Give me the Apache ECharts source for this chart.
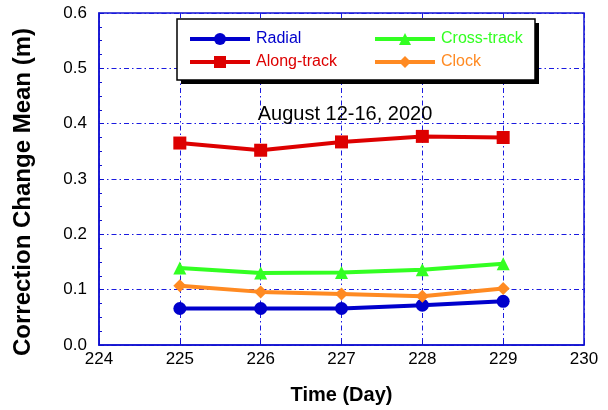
<!DOCTYPE html>
<html>
<head>
<meta charset="utf-8">
<script src="https://cdn.jsdelivr.net/npm/echarts@6/dist/echarts.min.js"></script>
<style>
  html, body { margin: 0; padding: 0; background: #fff; }
  #chart { width: 608px; height: 410px; }
</style>
</head>
<body>
<div id="chart"></div>
<script>
// Day of year (August 12-16, 2020)
const days = [225, 226, 227, 228, 229];

// Mean correction change per component (m)
const radial     = [0.066, 0.066, 0.066, 0.072, 0.079];
const alongTrack = [0.365, 0.352, 0.367, 0.377, 0.375];
const crossTrack = [0.139, 0.130, 0.131, 0.136, 0.147];
const clock      = [0.107, 0.096, 0.092, 0.088, 0.102];

const xTicks = [224, 225, 226, 227, 228, 229, 230];
const yTicks = [0.0, 0.1, 0.2, 0.3, 0.4, 0.5, 0.6];

const FONT = '"Liberation Sans", Arial, sans-serif';
const FRAME = '#1010d0';
const GRID_LINE = { color: '#1a1ae0', width: 1, type: [5, 3, 1.5, 3] };

const COLORS = {
  'Radial': '#0000cc',
  'Along-track': '#dd0000',
  'Cross-track': '#33ff22',
  'Clock': '#ff8a22'
};

const pairs = vals => days.map((d, i) => [d, vals[i]]);

function lineSeries(name, vals, symbol, size) {
  const color = COLORS[name];
  return {
    name: name,
    type: 'line',
    data: pairs(vals),
    symbol: symbol,
    symbolSize: size,
    showSymbol: true,
    lineStyle: { color: color, width: 4 },
    itemStyle: { color: color },
    emphasis: { disabled: true },
    z: 3
  };
}

function legendColumn(names, left) {
  return {
    orient: 'vertical', left: left, top: 31, padding: 0, itemGap: 7,
    itemWidth: 60, itemHeight: 15,
    lineStyle: { width: 4 },
    data: names.map(n => ({ name: n, textStyle: { color: COLORS[n] } })),
    textStyle: { fontFamily: FONT, fontSize: 16, padding: [0, 0, 0, 1] },
    selectedMode: false, z: 10
  };
}

const chart = echarts.init(document.getElementById('chart'), null, { renderer: 'canvas' });

chart.setOption({
  animation: false,
  backgroundColor: '#fff',
  grid: {
    left: 99, right: 24, top: 13, bottom: 63,
    show: true, borderColor: FRAME, borderWidth: 1.5, backgroundColor: 'transparent'
  },
  xAxis: {
    type: 'value',
    min: xTicks[0], max: xTicks[xTicks.length - 1], interval: 1,
    name: 'Time (Day)',
    nameLocation: 'middle',
    nameGap: 40,
    nameTextStyle: { fontFamily: FONT, fontWeight: 'bold', fontSize: 20, color: '#000' },
    axisLine: { show: true, lineStyle: { color: FRAME, width: 1.5 } },
    axisTick: { show: true, inside: true, length: 5, lineStyle: { color: FRAME } },
    axisLabel: { fontFamily: FONT, fontSize: 17, color: '#000', margin: 6 },
    splitLine: { show: true, lineStyle: GRID_LINE }
  },
  yAxis: {
    type: 'value',
    min: yTicks[0], max: yTicks[yTicks.length - 1], interval: 0.1,
    axisLine: { show: true, lineStyle: { color: FRAME, width: 1.5 } },
    axisTick: { show: true, inside: true, length: 5, lineStyle: { color: FRAME } },
    minorTick: { show: true, splitNumber: 4, length: 3, lineStyle: { color: FRAME } },
    axisLabel: {
      fontFamily: FONT, fontSize: 17, color: '#000', margin: 12,
      formatter: v => v.toFixed(1)
    },
    splitLine: { show: true, lineStyle: GRID_LINE }
  },
  graphic: [
    // legend box: black drop shadow, then white panel with black border
    {
      type: 'rect',
      shape: { x: 181, y: 23, width: 358, height: 61 },
      style: { fill: '#000' },
      z: 5
    },
    {
      type: 'rect',
      shape: { x: 177, y: 19, width: 358, height: 61 },
      style: { fill: '#fff', stroke: '#000', lineWidth: 1.5 },
      z: 6
    },
    {
      type: 'text',
      x: 345, y: 114,
      style: {
        text: 'August 12-16, 2020',
        fontFamily: FONT, fontSize: 20, fill: '#000',
        textAlign: 'center', textVerticalAlign: 'middle'
      },
      z: 5
    },
    {
      type: 'text',
      x: 23, y: 192,
      rotation: Math.PI / 2,
      style: {
        text: 'Correction Change Mean (m)',
        fontFamily: FONT, fontSize: 24, fontWeight: 'bold', fill: '#000',
        textAlign: 'center', textVerticalAlign: 'middle'
      },
      z: 5
    }
  ],
  legend: [
    legendColumn(['Radial', 'Along-track'], 188),
    legendColumn(['Cross-track', 'Clock'], 373)
  ],
  series: [
    lineSeries('Radial', radial, 'circle', 13),
    lineSeries('Along-track', alongTrack, 'rect', 13),
    lineSeries('Cross-track', crossTrack, 'triangle', 13),
    lineSeries('Clock', clock, 'diamond', 13)
  ]
});
</script>
</body>
</html>
